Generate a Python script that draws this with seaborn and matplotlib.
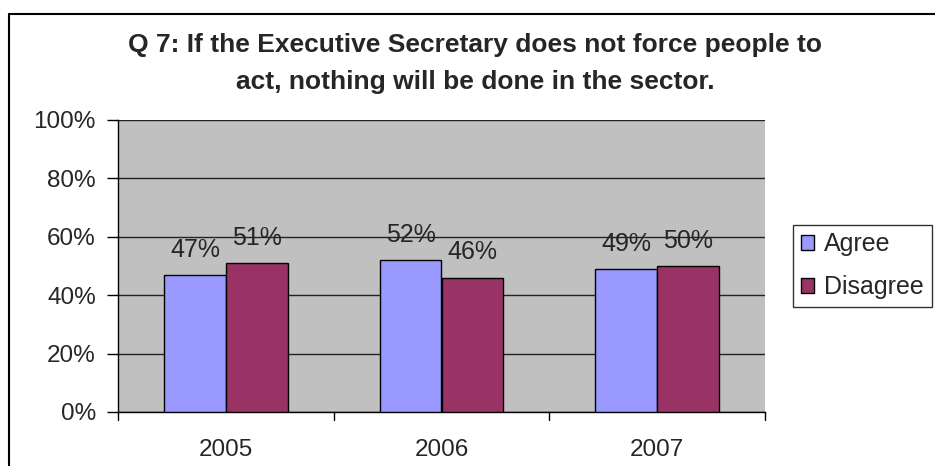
import matplotlib
matplotlib.use("Agg")
import matplotlib.pyplot as plt
from matplotlib.lines import Line2D
from matplotlib.patches import Patch
import pandas as pd
import seaborn as sns

years = ["2005", "2006", "2007"]
series = ["Agree", "Disagree"]
agree = [0.47, 0.52, 0.49]
disagree = [0.51, 0.46, 0.50]
labels_agree = ["47%", "52%", "49%"]
labels_disagree = ["51%", "46%", "50%"]
y_ticks = [0, 0.2, 0.4, 0.6, 0.8, 1.0]
y_ticklabels = ["0%", "20%", "40%", "60%", "80%", "100%"]
colors = ["#9999FF", "#993366"]
title_lines = ["Q 7: If the Executive Secretary does not force people to",
               "act, nothing will be done in the sector."]

df = pd.DataFrame({
    "year": years * 2,
    "series": [series[0]] * 3 + [series[1]] * 3,
    "value": agree + disagree,
})

sns.set_style("white")
plt.rcParams["font.family"] = ["Liberation Sans", "DejaVu Sans"]

fig = plt.figure(figsize=(9.35, 4.66), dpi=100)
ax = fig.add_axes([118 / 935, 1 - 412 / 466, (765 - 118) / 935, (412 - 120) / 466])
ax.set_facecolor("#C0C0C0")

sns.barplot(data=df, x="year", y="value", hue="series", palette=colors,
            width=0.574, gap=0, edgecolor="black", linewidth=1.0,
            saturation=1, ax=ax, legend=False, zorder=3)

ax.set_ylim(0, 1.0)
ax.set_yticks(y_ticks)
ax.set_yticklabels(y_ticklabels, fontsize=17.5)
ax.yaxis.grid(True, color="#222222", linewidth=1.0, zorder=0)
ax.set_axisbelow(True)
ax.set_xlabel("")
ax.set_ylabel("")
ax.set_xlim(-0.5, 2.5)
ax.set_xticks([])
ax.tick_params(axis="y", length=8, width=1, color="black", direction="out", pad=8, left=True)

# category separators below the axis and the year labels
for b in [-0.5, 0.5, 1.5, 2.5]:
    ax.plot([b, b], [0, -0.028], color="black", lw=1, clip_on=False, transform=ax.transData)
for i, yr in enumerate(years):
    ax.text(i, -0.13, yr, ha="center", va="center", fontsize=17.5,
            transform=ax.get_xaxis_transform())

for spine in ["top", "right"]:
    ax.spines[spine].set_visible(False)
ax.spines["left"].set_color("black")
ax.spines["bottom"].set_color("black")
ax.spines["left"].set_linewidth(1)
ax.spines["bottom"].set_linewidth(1)

for cont, labs in zip(ax.containers, [labels_agree, labels_disagree]):
    ax.bar_label(cont, labels=labs, padding=9.5, fontsize=18)

fig.text(475 / 935, 1 - 45 / 466, title_lines[0],
         ha="center", va="center", fontsize=19, fontweight="bold")
fig.text(475 / 935, 1 - 82 / 466, title_lines[1],
         ha="center", va="center", fontsize=19, fontweight="bold")

handles = [Patch(facecolor=c, edgecolor="black", linewidth=1) for c in colors]
leg = fig.legend(handles, series, loc="upper left",
                 bbox_to_anchor=(793 / 935, 1 - 225 / 466), fontsize=18,
                 frameon=True, fancybox=False, edgecolor="black",
                 handlelength=0.55, handleheight=0.55, handletextpad=0.4,
                 borderpad=0.3, labelspacing=0.75, borderaxespad=0)
leg.get_frame().set_linewidth(1)

fig.add_artist(Line2D([9 / 935, 1.0], [1 - 14 / 466, 1 - 14 / 466], color="black", lw=1.5,
                      transform=fig.transFigure))
fig.add_artist(Line2D([9 / 935, 9 / 935], [0, 1 - 14 / 466], color="black", lw=1.5,
                      transform=fig.transFigure))

fig.savefig("out.png", dpi=100)
